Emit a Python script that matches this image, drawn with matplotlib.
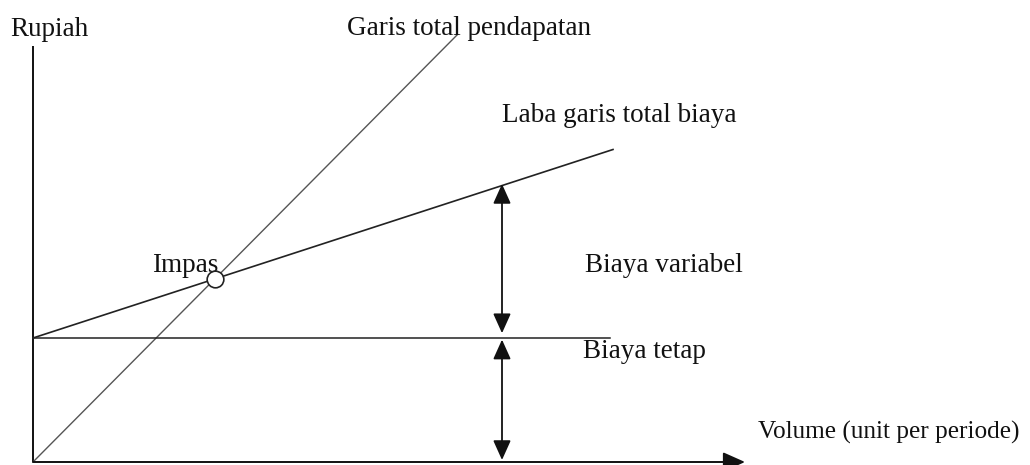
import numpy as np
import matplotlib.pyplot as plt

# Break-even chart values (arbitrary units)
fixed_cost = 31.0
var_cost_per_unit = 0.325
price_per_unit = 1.007
revenue_volume = [0, 106]
cost_volume = [0, 145]
fixed_volume = [0, 144.25]
arrow_volume = 117.25
axis_x_max = 178
axis_y_max = 104

break_even = fixed_cost / (price_per_unit - var_cost_per_unit)

plt.rcParams['font.family'] = ['Liberation Serif', 'DejaVu Serif']
fs = 19.5
ink = '#111111'

fig = plt.figure(figsize=(10.3, 4.65), dpi=100)
ax = fig.add_axes([0, 0, 1, 1])
ax.set_xlim(-33 / 4, 997 / 4)
ax.set_ylim(-3 / 4, 462 / 4)
ax.axis('off')

# axes
ax.plot([0, 0], [0, axis_y_max], color=ink, lw=1.4, solid_capstyle='butt')
ax.annotate('', xy=(axis_x_max, 0), xytext=(0, 0),
            arrowprops=dict(arrowstyle='-|>,head_length=0.45,head_width=0.2',
                            mutation_scale=30, color=ink, lw=1.4,
                            shrinkA=0, shrinkB=0))

# revenue, total cost and fixed cost lines
rv = np.array(revenue_volume)
ax.plot(rv, price_per_unit * rv, color='#555555', lw=1.0)
cv = np.array(cost_volume)
ax.plot(cv, fixed_cost + var_cost_per_unit * cv, color='#222222', lw=1.2)
ax.plot(fixed_volume, [fixed_cost, fixed_cost], color='#222222', lw=1.1)

# break-even point
ax.plot([break_even], [price_per_unit * break_even], 'o', ms=12, mfc='white',
        mec='#222222', mew=1.2, zorder=5)

# double arrows
top = fixed_cost + var_cost_per_unit * arrow_volume
astyle = dict(arrowstyle='<|-|>,head_length=0.4,head_width=0.18',
              mutation_scale=30, color=ink, lw=1.3, shrinkA=0, shrinkB=0)
ax.annotate('', xy=(arrow_volume, top + 0.4), xytext=(arrow_volume, fixed_cost + 1.2),
            arrowprops=astyle)
ax.annotate('', xy=(arrow_volume, fixed_cost - 0.4), xytext=(arrow_volume, 0.5),
            arrowprops=astyle)

# labels
labels = [
    ('Rupiah', -5.75, 106.5, fs),
    ('Garis total pendapatan', 78.5, 106.75, fs),
    ('Laba garis total biaya', 117.25, 85.0, fs),
    ('Impas', 29.75, 47.5, fs),
    ('Biaya variabel', 138, 47.5, fs),
    ('Biaya tetap', 137.5, 26.0, fs),
    ('Volume (unit per periode)', 181.25, 5.75, 18.2),
]
for txt, x, y, size in labels:
    ax.text(x, y, txt, fontsize=size, color=ink, ha='left', va='baseline')

fig.savefig('out.png', dpi=100)
